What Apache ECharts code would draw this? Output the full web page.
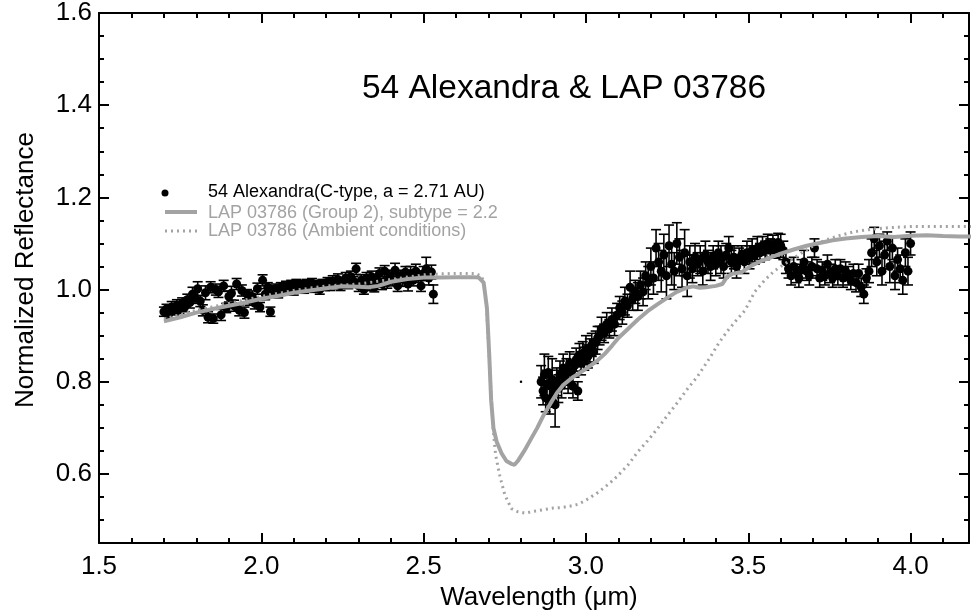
<!DOCTYPE html>
<html>
<head>
<meta charset="utf-8">
<title>54 Alexandra &amp; LAP 03786</title>
<script src="https://cdn.jsdelivr.net/npm/echarts@6/dist/echarts.min.js"></script>
<style>
  html, body { margin: 0; padding: 0; background: #fff; }
  #chart { width: 972px; height: 616px; }
</style>
</head>
<body>
<div id="chart"></div>
<script>
// 54 Alexandra spectrum: wavelength (um), normalized reflectance, 1-sigma error
const alexWave = [
  1.700, 1.708, 1.716, 1.724, 1.732, 1.740, 1.748, 1.756, 1.764, 1.772,
  1.780, 1.788, 1.796, 1.804, 1.812, 1.820, 1.828, 1.836, 1.844, 1.852,
  1.860, 1.868, 1.876, 1.884, 1.892, 1.900, 1.908, 1.916, 1.924, 1.932,
  1.940, 1.948, 1.956, 1.964, 1.972, 1.980, 1.988, 1.996, 2.004, 2.012,
  2.020, 2.028, 2.036, 2.044, 2.052, 2.060, 2.068, 2.076, 2.084, 2.092,
  2.100, 2.108, 2.116, 2.124, 2.132, 2.140, 2.148, 2.156, 2.164, 2.172,
  2.180, 2.188, 2.196, 2.204, 2.212, 2.220, 2.228, 2.236, 2.244, 2.252,
  2.260, 2.268, 2.276, 2.284, 2.292, 2.300, 2.308, 2.316, 2.324, 2.332,
  2.340, 2.348, 2.356, 2.364, 2.372, 2.380, 2.388, 2.396, 2.404, 2.412,
  2.420, 2.428, 2.436, 2.444, 2.452, 2.460, 2.468, 2.476, 2.484, 2.492,
  2.500, 2.508, 2.516, 2.524, 2.530,
  2.862, 2.868, 2.872, 2.876, 2.880, 2.884, 2.888, 2.892, 2.896, 2.900,
  2.905, 2.910, 2.915, 2.920, 2.925, 2.930, 2.935, 2.940, 2.945, 2.950,
  2.955, 2.960, 2.965, 2.970, 2.975, 2.980, 2.985, 2.990, 2.995, 3.000,
  3.006, 3.012, 3.018, 3.024, 3.030, 3.036, 3.042, 3.048, 3.056, 3.064,
  3.072, 3.080, 3.088, 3.096, 3.104, 3.112, 3.120, 3.128, 3.136, 3.144,
  3.152, 3.160, 3.168, 3.176, 3.184, 3.192, 3.200, 3.208, 3.216, 3.224,
  3.232, 3.240, 3.248, 3.256, 3.264, 3.272, 3.280, 3.288, 3.296, 3.304,
  3.312, 3.320, 3.328, 3.336, 3.344, 3.352, 3.360, 3.368, 3.376, 3.384,
  3.392, 3.400, 3.408, 3.416, 3.424, 3.432, 3.440, 3.448, 3.456, 3.464,
  3.472, 3.480, 3.488, 3.496, 3.504, 3.512, 3.520, 3.528, 3.536, 3.544,
  3.552, 3.560, 3.568, 3.576, 3.584, 3.592, 3.600, 3.608, 3.616, 3.624,
  3.632, 3.640, 3.648, 3.656, 3.664, 3.672, 3.680, 3.688, 3.696, 3.704,
  3.712, 3.720, 3.728, 3.736, 3.744, 3.752, 3.760, 3.768, 3.776, 3.784,
  3.792, 3.800, 3.808, 3.816, 3.824, 3.832, 3.840, 3.848, 3.856, 3.864,
  3.872, 3.880, 3.888, 3.896, 3.904, 3.912, 3.920, 3.928, 3.936, 3.944,
  3.952, 3.960, 3.968, 3.976, 3.984, 3.992, 4.000
];
const alexRefl = [
  0.952, 0.958, 0.948, 0.962, 0.955, 0.966, 0.958, 0.970, 0.962, 0.978,
  0.972, 0.990, 0.982, 1.002, 0.975, 0.955, 0.993, 0.940, 1.005, 0.937,
  1.000, 0.995, 0.945, 1.008, 0.960, 0.985, 0.992, 0.965, 1.012, 0.955,
  0.998, 0.950, 0.990, 0.978, 0.985, 0.970, 1.002, 0.962, 1.020, 0.990,
  1.005, 0.952, 0.998, 1.002, 0.992, 1.005, 0.998, 1.008, 1.002, 1.010,
  0.998, 1.012, 1.005, 1.010, 1.002, 1.012, 1.006, 1.014, 1.004, 1.010,
  1.000, 1.012, 1.008, 1.016, 1.010, 1.018, 1.012, 1.022, 1.008, 1.015,
  1.025, 1.012, 1.028, 1.018, 1.045, 1.008, 1.020, 1.000, 1.025, 1.010,
  1.028, 1.005, 1.020, 1.035, 1.012, 1.040, 1.015, 1.030, 1.020, 1.042,
  1.008, 1.030, 1.022, 1.038, 1.012, 1.035, 1.020, 1.040, 1.028, 1.008,
  1.035, 1.045, 1.025, 1.038, 0.990,
  0.800, 0.780, 0.815, 0.765, 0.795, 0.820, 0.760, 0.790, 0.805, 0.775,
  0.750, 0.800, 0.785, 0.815, 0.795, 0.830, 0.810, 0.825, 0.800, 0.840,
  0.820, 0.790, 0.835, 0.848, 0.780, 0.858, 0.840, 0.862, 0.850, 0.870,
  0.855, 0.868, 0.880, 0.865, 0.885, 0.895, 0.900, 0.915, 0.905, 0.925,
  0.915, 0.935, 0.925, 0.945, 0.960, 0.950, 0.975, 0.965, 1.005, 0.980,
  0.995, 0.985, 1.010, 0.995, 1.030, 1.015, 1.050, 1.025, 1.090, 1.060,
  1.040, 1.075, 1.030, 1.095, 1.055, 1.040, 1.100, 1.070, 1.045, 1.080,
  1.030, 1.060, 1.045, 1.070, 1.055, 1.065, 1.040, 1.075, 1.060, 1.050,
  1.070, 1.055, 1.080, 1.065, 1.050, 1.075, 1.090, 1.060, 1.070, 1.050,
  1.065, 1.075, 1.060, 1.080, 1.070, 1.085, 1.075, 1.090, 1.080, 1.095,
  1.085, 1.100, 1.090, 1.098, 1.088, 1.102, 1.095, 1.085, 1.060, 1.045,
  1.030, 1.050, 1.035, 1.025, 1.045, 1.060, 1.040, 1.030, 1.050, 1.090,
  1.045, 1.025, 1.040, 1.030, 1.055, 1.035, 1.025, 1.045, 1.030, 1.045,
  1.025, 1.040, 1.030, 1.020, 1.035, 1.015, 1.035, 1.005, 0.990, 1.025,
  1.040, 1.080, 1.110, 1.060, 1.095, 1.040, 1.075, 1.105, 1.050, 1.090,
  1.030, 1.065, 1.045, 1.020, 1.080, 1.040, 1.100
];
const alexErr = [
  0.010, 0.010, 0.010, 0.012, 0.010, 0.012, 0.010, 0.012, 0.010, 0.012,
  0.012, 0.015, 0.012, 0.015, 0.012, 0.012, 0.015, 0.012, 0.012, 0.010,
  0.012, 0.012, 0.012, 0.012, 0.010, 0.012, 0.015, 0.012, 0.012, 0.012,
  0.012, 0.012, 0.010, 0.012, 0.012, 0.012, 0.012, 0.010, 0.012, 0.012,
  0.010, 0.010, 0.010, 0.010, 0.010, 0.010, 0.010, 0.010, 0.010, 0.010,
  0.010, 0.010, 0.010, 0.010, 0.010, 0.010, 0.010, 0.010, 0.010, 0.010,
  0.010, 0.010, 0.010, 0.010, 0.012, 0.012, 0.010, 0.012, 0.010, 0.010,
  0.012, 0.010, 0.012, 0.010, 0.012, 0.012, 0.012, 0.010, 0.012, 0.012,
  0.012, 0.010, 0.012, 0.012, 0.012, 0.012, 0.012, 0.012, 0.012, 0.015,
  0.012, 0.012, 0.015, 0.012, 0.015, 0.015, 0.012, 0.015, 0.012, 0.012,
  0.015, 0.025, 0.015, 0.015, 0.020,
  0.035, 0.030, 0.045, 0.030, 0.030, 0.035, 0.030, 0.035, 0.045, 0.030,
  0.048, 0.030, 0.030, 0.030, 0.030, 0.030, 0.025, 0.025, 0.025, 0.025,
  0.025, 0.025, 0.025, 0.025, 0.020, 0.025, 0.025, 0.025, 0.025, 0.030,
  0.025, 0.025, 0.025, 0.025, 0.025, 0.025, 0.020, 0.025, 0.020, 0.025,
  0.020, 0.025, 0.025, 0.025, 0.025, 0.025, 0.030, 0.025, 0.035, 0.025,
  0.025, 0.030, 0.030, 0.030, 0.030, 0.035, 0.040, 0.035, 0.040, 0.040,
  0.045, 0.045, 0.050, 0.045, 0.045, 0.040, 0.045, 0.040, 0.040, 0.050,
  0.045, 0.035, 0.030, 0.030, 0.025, 0.030, 0.030, 0.030, 0.025, 0.030,
  0.025, 0.025, 0.025, 0.030, 0.025, 0.025, 0.025, 0.025, 0.025, 0.025,
  0.025, 0.020, 0.025, 0.025, 0.025, 0.025, 0.020, 0.025, 0.020, 0.020,
  0.020, 0.020, 0.020, 0.020, 0.020, 0.020, 0.025, 0.020, 0.025, 0.020,
  0.020, 0.020, 0.020, 0.020, 0.020, 0.025, 0.020, 0.020, 0.020, 0.020,
  0.020, 0.020, 0.020, 0.020, 0.020, 0.020, 0.020, 0.020, 0.020, 0.020,
  0.020, 0.020, 0.020, 0.020, 0.020, 0.020, 0.020, 0.020, 0.020, 0.020,
  0.025, 0.030, 0.025, 0.030, 0.025, 0.030, 0.030, 0.020, 0.035, 0.025,
  0.030, 0.025, 0.030, 0.030, 0.030, 0.030, 0.025
];

// stray single point near the band minimum
const strayWave = [2.800];
const strayRefl = [0.800];

// LAP 03786 (Group 2), subtype = 2.2
const lapWave = [
  1.700, 1.750, 1.800, 1.850, 1.900, 1.950, 2.000, 2.050, 2.100, 2.150,
  2.200, 2.250, 2.300, 2.330, 2.360, 2.400, 2.450, 2.500, 2.550, 2.600,
  2.650, 2.670, 2.685, 2.695, 2.702, 2.708, 2.715, 2.725, 2.740, 2.755,
  2.770, 2.780, 2.790, 2.810, 2.830, 2.850, 2.870, 2.890, 2.910, 2.930,
  2.960, 3.000, 3.030, 3.060, 3.080, 3.100, 3.130, 3.160, 3.190, 3.220,
  3.250, 3.280, 3.310, 3.330, 3.350, 3.370, 3.400, 3.420, 3.435, 3.450,
  3.480, 3.510, 3.540, 3.570, 3.600, 3.640, 3.680, 3.720, 3.760, 3.800,
  3.850, 3.900, 3.950, 4.000, 4.050, 4.100, 4.150, 4.200
];
const lapRefl = [
  0.931, 0.940, 0.950, 0.958, 0.965, 0.972, 0.980, 0.986, 0.993, 0.998,
  1.003, 1.007, 1.006, 1.005, 1.008, 1.017, 1.023, 1.026, 1.026, 1.027,
  1.027, 1.026, 1.015, 0.960, 0.860, 0.760, 0.700, 0.670, 0.645, 0.628,
  0.622, 0.620, 0.628, 0.650, 0.675, 0.700, 0.728, 0.752, 0.775, 0.793,
  0.810, 0.828, 0.843, 0.862, 0.878, 0.895, 0.915, 0.935, 0.953, 0.968,
  0.982, 0.995, 1.004, 1.007, 1.004, 1.005, 1.008, 1.012, 1.028, 1.034,
  1.038, 1.052, 1.062, 1.070, 1.078, 1.087, 1.095, 1.101, 1.107, 1.111,
  1.114, 1.116, 1.114, 1.117, 1.118, 1.116, 1.115, 1.115
];

// LAP 03786 (Ambient conditions)
const ambWave = [
  1.700, 1.800, 1.900, 2.000, 2.100, 2.200, 2.300, 2.400, 2.500, 2.550,
  2.600, 2.660, 2.680, 2.692, 2.700, 2.708, 2.715, 2.722, 2.735, 2.750,
  2.770, 2.790, 2.813, 2.840, 2.874, 2.900, 2.923, 2.950, 2.975, 3.000,
  3.037, 3.070, 3.098, 3.130, 3.160, 3.190, 3.220, 3.250, 3.282, 3.310,
  3.344, 3.380, 3.410, 3.436, 3.465, 3.490, 3.520, 3.550, 3.580, 3.610,
  3.640, 3.670, 3.700, 3.740, 3.780, 3.830, 3.880, 3.950, 4.010, 4.100,
  4.200
];
const ambRefl = [
  0.936, 0.955, 0.970, 0.985, 0.998, 1.008, 1.012, 1.022, 1.032, 1.034,
  1.035, 1.035, 1.028, 0.980, 0.880, 0.770, 0.690, 0.640, 0.595, 0.555,
  0.525, 0.518, 0.515, 0.519, 0.523, 0.526, 0.527, 0.530, 0.534, 0.543,
  0.560, 0.578, 0.596, 0.620, 0.648, 0.672, 0.698, 0.726, 0.755, 0.782,
  0.812, 0.850, 0.885, 0.910, 0.935, 0.955, 0.995, 1.020, 1.040, 1.055,
  1.068, 1.082, 1.095, 1.108, 1.117, 1.126, 1.131, 1.135, 1.137, 1.137,
  1.137
];

const xTickLabels = ['1.5', '2.0', '2.5', '3.0', '3.5', '4.0'];
const yTickLabels = ['0.6', '0.8', '1.0', '1.2', '1.4', '1.6'];

const FONT = '"Liberation Sans", Arial, Helvetica, sans-serif';
const GRAY = '#a3a3a3';

function pairs(xs, ys) {
  return xs.map((x, i) => [x, ys[i]]);
}

function isOnStep(v, step) {
  const k = v / step;
  return Math.abs(k - Math.round(k)) < 1e-6;
}

// x axis: 1.5 .. 4.18 shown, major every 0.5, minor every 0.1
function xAxis(position, showLabel) {
  return {
    type: 'value',
    position: position,
    min: 1.5,
    max: 4.18,
    minInterval: 0.5,
    maxInterval: 0.5,
    axisLine: { show: true, lineStyle: { color: '#000', width: 2 } },
    axisTick: { show: true, inside: true, length: 10, lineStyle: { color: '#000', width: 2 } },
    minorTick: { show: true, splitNumber: 5, length: 5, lineStyle: { color: '#000', width: 2 } },
    splitLine: { show: false },
    minorSplitLine: { show: false },
    axisLabel: {
      show: showLabel,
      margin: 11,
      fontSize: 26,
      fontFamily: FONT,
      color: '#000',
      formatter: v => {
        const s = v.toFixed(1);
        return isOnStep(v, 0.5) && xTickLabels.includes(s) ? s : '';
      }
    }
  };
}

// y axis: 0.45 .. 1.6, major every 0.2, minor every 0.05
function yAxis(position, showLabel, offset) {
  return {
    type: 'value',
    position: position,
    offset: offset,
    min: 0.45,
    max: 1.6,
    minInterval: 0.2,
    maxInterval: 0.2,
    axisLine: { show: true, lineStyle: { color: '#000', width: 2 } },
    axisTick: { show: true, inside: true, length: 10, lineStyle: { color: '#000', width: 2 } },
    minorTick: { show: true, splitNumber: 4, length: 5, lineStyle: { color: '#000', width: 2 } },
    splitLine: { show: false },
    minorSplitLine: { show: false },
    axisLabel: {
      show: showLabel,
      margin: 7,
      fontSize: 26,
      fontFamily: FONT,
      color: '#000',
      formatter: v => {
        const s = v.toFixed(1);
        return isOnStep(v, 0.2) && yTickLabels.includes(s) ? s : '';
      }
    }
  };
}

function renderErrorBar(params, api) {
  const x = api.value(0);
  const y = api.value(1);
  const e = api.value(2);
  const top = api.coord([x, y + e]);
  const bot = api.coord([x, y - e]);
  const cap = 5;
  const style = { stroke: '#000', lineWidth: 1.6 };
  return {
    type: 'group',
    children: [
      { type: 'line', shape: { x1: top[0], y1: top[1], x2: bot[0], y2: bot[1] }, style: style },
      { type: 'line', shape: { x1: top[0] - cap, y1: top[1], x2: top[0] + cap, y2: top[1] }, style: style },
      { type: 'line', shape: { x1: bot[0] - cap, y1: bot[1], x2: bot[0] + cap, y2: bot[1] }, style: style }
    ]
  };
}

const bottomX = xAxis('bottom', true);
bottomX.name = 'Wavelength (\u03bcm)';
bottomX.nameLocation = 'middle';
bottomX.nameGap = 38;
bottomX.nameTextStyle = { fontSize: 26, fontFamily: FONT, color: '#000', padding: [0, 0, 0, 10] };

const leftY = yAxis('left', true, 0);
leftY.name = 'Normalized Reflectance';
leftY.nameLocation = 'middle';
leftY.nameGap = 60;
leftY.nameTextStyle = { fontSize: 26, fontFamily: FONT, color: '#000', padding: [0, 0, 0, 16] };

const chart = echarts.init(document.getElementById('chart'), null, { renderer: 'canvas' });

chart.setOption({
  animation: false,
  backgroundColor: '#fff',
  grid: { left: 99, top: 13, width: 874, height: 531 },
  xAxis: [bottomX, xAxis('top', false)],
  yAxis: [leftY, yAxis('right', false, 0)],
  graphic: [
    {
      type: 'text', x: 564, y: 89,
      style: { text: '54 Alexandra & LAP 03786', fontSize: 33.5, fontFamily: FONT, fill: '#000', align: 'center', verticalAlign: 'middle' }
    },
    // legend
    { type: 'circle', shape: { cx: 165, cy: 193, r: 3.5 }, style: { fill: '#000' } },
    {
      type: 'text', x: 208, y: 192,
      style: { text: '54 Alexandra(C-type, a = 2.71 AU)', fontSize: 18, fontFamily: FONT, fill: '#000', verticalAlign: 'middle' }
    },
    { type: 'line', shape: { x1: 165, y1: 212, x2: 197, y2: 212 }, style: { stroke: GRAY, lineWidth: 4 } },
    {
      type: 'text', x: 208, y: 213,
      style: { text: 'LAP 03786 (Group 2), subtype = 2.2', fontSize: 18, fontFamily: FONT, fill: GRAY, verticalAlign: 'middle' }
    },
    { type: 'line', shape: { x1: 165, y1: 231, x2: 197, y2: 231 }, style: { stroke: GRAY, lineWidth: 3, lineDash: [2, 4] } },
    {
      type: 'text', x: 208, y: 231,
      style: { text: 'LAP 03786 (Ambient conditions)', fontSize: 18, fontFamily: FONT, fill: GRAY, verticalAlign: 'middle' }
    }
  ],
  series: [
    {
      name: 'errors',
      type: 'custom',
      renderItem: renderErrorBar,
      encode: { x: 0, y: 1 },
      data: alexWave.map((w, i) => [w, alexRefl[i], alexErr[i]]),
      z: 2
    },
    {
      name: '54 Alexandra(C-type, a = 2.71 AU)',
      type: 'scatter',
      symbol: 'circle',
      symbolSize: 9,
      itemStyle: { color: '#000', opacity: 1 },
      data: pairs(alexWave, alexRefl),
      z: 3
    },
    {
      name: 'stray',
      type: 'scatter',
      symbolSize: 2.5,
      itemStyle: { color: '#000', opacity: 1 },
      data: pairs(strayWave, strayRefl),
      z: 3
    },
    {
      name: 'LAP 03786 (Ambient conditions)',
      type: 'line',
      showSymbol: false,
      symbol: 'none',
      lineStyle: { color: GRAY, width: 3, type: [2, 4] },
      data: pairs(ambWave, ambRefl),
      z: 4
    },
    {
      name: 'LAP 03786 (Group 2), subtype = 2.2',
      type: 'line',
      showSymbol: false,
      symbol: 'none',
      lineStyle: { color: GRAY, width: 4 },
      data: pairs(lapWave, lapRefl),
      z: 5
    }
  ]
});
</script>
</body>
</html>
